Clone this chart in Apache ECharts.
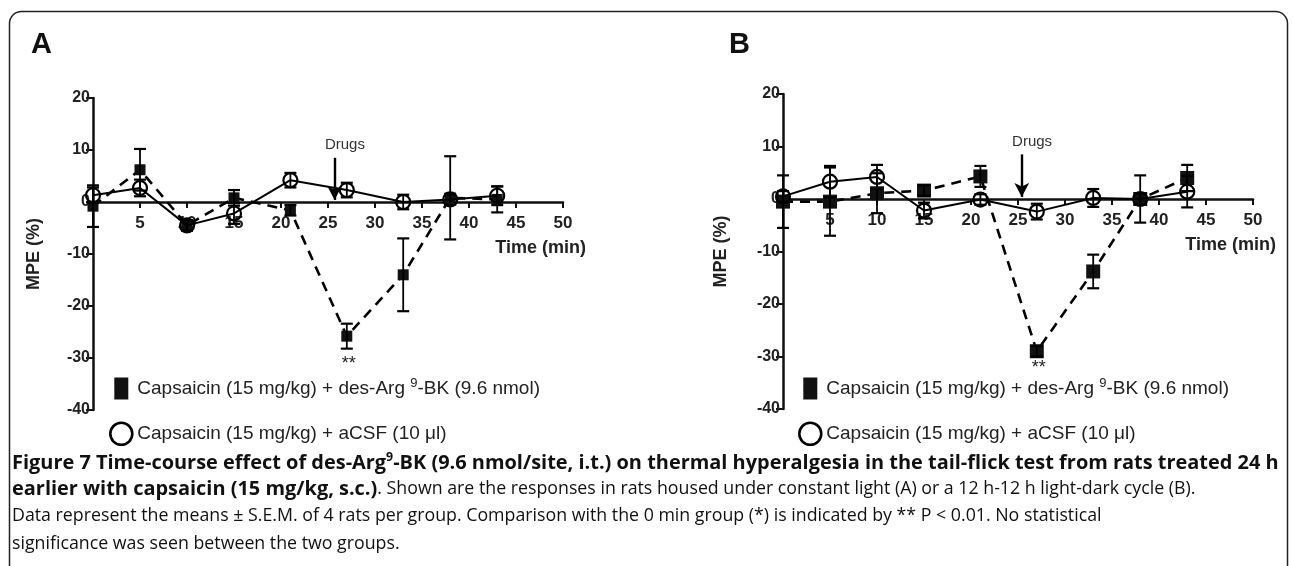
<!DOCTYPE html>
<html><head><meta charset="utf-8">
<script src="https://cdn.jsdelivr.net/npm/echarts@6/dist/echarts.min.js"></script>
<style>html,body{margin:0;padding:0;background:#fff}#c{width:1293px;height:566px}</style>
</head><body><div id="c"></div>
<script>
// ---- data ----
const timeA = [0, 5, 10, 15, 21, 27, 33, 38, 43];
const bkA = [-0.8, 6.2, -4.5, 0.8, -1.6, -25.8, -14.0, 0.8, 0.5];
const bkA_sem = [4.0, 4.0, 1.0, 1.5, 1.0, 2.4, 7.0, 8.0, 2.5];
const csfA = [1.3, 2.7, -4.5, -2.2, 4.2, 2.3, 0.0, 0.5, 1.2];
const csfA_sem = [1.5, 1.6, 1.0, 2.0, 1.4, 1.4, 1.4, 1.0, 1.8];

const timeB = [0, 5, 10, 15, 21, 27, 33, 38, 43];
const bkB = [-0.5, -0.5, 1.1, 1.6, 4.3, -29.0, -13.8, 0.0, 4.0];
const bkB_sem = [5.0, 6.5, 3.8, 1.0, 2.0, 1.0, 3.2, 4.5, 2.5];
const csfB = [0.5, 3.3, 4.2, -2.2, -0.1, -2.4, 0.2, 0.0, 1.4];
const csfB_sem = [1.0, 3.0, 2.3, 1.5, 1.0, 1.5, 1.7, 1.0, 3.0];

const xTicks = [0, 50, 5];      // min, max, interval
const yTicks = [-40, 20, 10];
const nameBK = 'Capsaicin (15 mg/kg) + des-Arg9-BK (9.6 nmol)';
const nameCSF = 'Capsaicin (15 mg/kg) + aCSF (10 \u03bcl)';
const drugTime = [25.7, 25.4];
const sigPoint = [[27.2, -31.1], [27.2, -32.2]];

const captionLines = [
  [['b', 'Figure 7 Time-course effect of des-Arg'], ['bs', '9'], ['b', '-BK (9.6 nmol/site, i.t.) on thermal hyperalgesia in the tail-flick test from rats treated 24 h']],
  [['b', 'earlier with capsaicin (15 mg/kg, s.c.)'], ['r', '. Shown are the responses in rats housed under constant light (A) or a 12 h-12 h light-dark cycle (B).']],
  [['r', 'Data represent the means \u00b1 S.E.M. of 4 rats per group. Comparison with the 0 min group (*) is indicated by ** P < 0.01. No statistical']],
  [['r', 'significance was seen between the two groups.']]
];

// ---- styling ----
const F = '"Liberation Sans", Arial, Helvetica, sans-serif';
const CF = '"Open Sans", "Liberation Sans", sans-serif';
const chart = echarts.init(document.getElementById('c'));

function zip(x, y) { return x.map((v, i) => [v, y[i]]); }
function errData(x, y, e) { return x.map((v, i) => [v, y[i], e[i]]); }

function errSeries(idx, data) {
  return {
    type: 'custom', xAxisIndex: idx, yAxisIndex: idx, data: data, z: 5, silent: true,
    encode: { x: 0, y: 1 },
    renderItem: function (p, api) {
      const x = api.value(0), y = api.value(1), e = api.value(2);
      const t = api.coord([x, y + e]), b = api.coord([x, y - e]);
      const w = 6;
      const st = { stroke: '#000', lineWidth: 1.8 };
      return { type: 'group', children: [
        { type: 'line', shape: { x1: t[0], y1: t[1], x2: b[0], y2: b[1] }, style: st },
        { type: 'line', shape: { x1: t[0] - w, y1: t[1], x2: t[0] + w, y2: t[1] }, style: { stroke: '#000', lineWidth: 2.2 } },
        { type: 'line', shape: { x1: b[0] - w, y1: b[1], x2: b[0] + w, y2: b[1] }, style: { stroke: '#000', lineWidth: 2.2 } }
      ]};
    }
  };
}

const gridH = [312, 315];
function xAxis(idx) {
  // place the x axis on the y = 0 line
  const zeroFromBottom = gridH[idx] * (0 - yTicks[0]) / (yTicks[1] - yTicks[0]);
  return {
    type: 'value', gridIndex: idx, min: xTicks[0], max: xTicks[1], interval: xTicks[2],
    position: 'bottom', offset: -zeroFromBottom,
    axisLine: { onZero: false, lineStyle: { color: '#111', width: 2.5 } },
    axisTick: { length: 6, lineStyle: { color: '#111', width: 2 } },
    axisLabel: { formatter: v => (v === 0 ? '' : String(v)), fontWeight: 'bold', fontSize: 17, color: '#222', fontFamily: F, margin: 13 },
    splitLine: { show: false },
    name: 'Time (min)', nameLocation: 'end', nameGap: 23,
    nameTextStyle: { align: 'right', verticalAlign: 'top', padding: [37, 0, 0, 0], fontWeight: 'bold', fontSize: 18, color: '#222', fontFamily: F }
  };
}
function yAxis(idx, gap) {
  return {
    type: 'value', gridIndex: idx, min: yTicks[0], max: yTicks[1], interval: yTicks[2],
    axisLine: { show: true, onZero: false, lineStyle: { color: '#111', width: 2.5 } },
    axisTick: { show: true, length: 7, lineStyle: { color: '#111', width: 2 } },
    axisLabel: { fontWeight: 'bold', fontSize: 16, color: '#222', fontFamily: F, margin: 3 },
    splitLine: { show: false },
    name: 'MPE (%)', nameLocation: 'middle', nameGap: gap,
    nameTextStyle: { fontWeight: 'bold', fontSize: 18, color: '#222', fontFamily: F }
  };
}

function panelSeries(idx, t, bk, bkE, csf, csfE, sqSize, drugT) {
  return [
    {
      name: nameBK, type: 'line', xAxisIndex: idx, yAxisIndex: idx, data: zip(t, bk),
      symbol: 'rect', symbolSize: sqSize, z: 3,
      lineStyle: { color: '#000', width: 2.6, type: [10, 7] },
      itemStyle: { color: '#111' },
      markPoint: {
        symbol: 'circle', symbolSize: 0,
        data: [{ coord: sigPoint[idx] }],
        label: { show: true, position: 'inside', formatter: '**', fontSize: 18, color: '#222', fontFamily: F }
      }
    },
    {
      name: nameCSF, type: 'line', xAxisIndex: idx, yAxisIndex: idx, data: zip(t, csf),
      symbol: 'circle', symbolSize: 14, z: 4,
      lineStyle: { color: '#000', width: 2 },
      itemStyle: { color: 'rgba(0,0,0,0)', borderColor: '#000', borderWidth: 2.2 },
      markLine: {
        silent: true, symbol: ['none', 'arrow'], symbolSize: [11, 14],
        lineStyle: { type: 'solid', color: '#000', width: 2.4 },
        label: { show: false },
        data: [[{ coord: [drugT, 8.5] }, { coord: [drugT, 0.4] }]]
      },
      markPoint: {
        symbol: 'circle', symbolSize: 0,
        data: [{ coord: [drugT + 1.1, 10.9] }],
        label: { show: true, position: 'inside', formatter: 'Drugs', fontSize: 15, color: '#333', fontFamily: F }
      }
    },
    errSeries(idx, errData(t, bk, bkE)),
    errSeries(idx, errData(t, csf, csfE))
  ];
}

function legend(left) {
  return {
    left: left, top: 372, orient: 'vertical', itemGap: 22, itemWidth: 22, itemHeight: 22,
    selectedMode: false,
    formatter: n => (n === nameBK ? 'Capsaicin (15 mg/kg) + des-Arg {s|9}-BK (9.6 nmol)' : n),
    textStyle: {
      fontSize: 19, color: '#222', fontFamily: F, padding: [0, 0, 0, 0],
      rich: { s: { fontSize: 13, fontFamily: F, color: '#222', verticalAlign: 'top', padding: [0, 0, 10, 0] } }
    },
    data: [
      { name: nameBK, icon: 'path://M0,0H14V22H0Z', itemStyle: { color: '#111', borderWidth: 0 } },
      { name: nameCSF, icon: 'circle', itemStyle: { color: 'rgba(0,0,0,0)', borderColor: '#000', borderWidth: 2.6 } }
    ]
  };
}

// caption fitting
const ctx = document.createElement('canvas').getContext('2d');
function widthOf(txt, weight, size) { ctx.font = weight + ' ' + size + 'px ' + CF; return ctx.measureText(txt).width; }
const boldW = widthOf(captionLines[0].map(s => s[1]).join(''), 'bold', 100);
const boldSize = 100 * 1272 / boldW;
const regW = widthOf(captionLines[2][0][1], 'normal', 100);
const regSize = 100 * 1090 / regW;

const capRich = {
  b: { fontFamily: CF, fontWeight: 'bold', fontSize: boldSize, color: '#111', lineHeight: 24 },
  bs: { fontFamily: CF, fontWeight: 'bold', fontSize: boldSize * 0.62, color: '#111', verticalAlign: 'top', lineHeight: 24 },
  r: { fontFamily: CF, fontWeight: 'normal', fontSize: regSize, color: '#222', lineHeight: 24 }
};
const capY = [463, 491, 519, 547];
const captionGraphics = captionLines.map((ln, i) => ({
  type: 'text', left: 12, top: capY[i] - 12,
  style: { text: ln.map(s => '{' + s[0] + '|' + s[1] + '}').join(''), rich: capRich, fill: '#111' }
}));

const option = {
  backgroundColor: '#fff',
  animation: false,
  grid: [
    { left: 93, top: 98, width: 470, height: gridH[0] },
    { left: 783, top: 94, width: 470, height: gridH[1] }
  ],
  xAxis: [xAxis(0), xAxis(1)],
  yAxis: [yAxis(0, 50), yAxis(1, 53)],
  legend: [legend(104), legend(793)],
  series: [].concat(
    panelSeries(0, timeA, bkA, bkA_sem, csfA, csfA_sem, 11, drugTime[0]),
    panelSeries(1, timeB, bkB, bkB_sem, csfB, csfB_sem, 14, drugTime[1])
  ),
  graphic: [
    { type: 'rect', shape: { x: 9.5, y: 11.5, width: 1278, height: 640, r: [12, 12, 0, 0] }, style: { fill: 'none', stroke: '#222', lineWidth: 1.5 }, silent: true },
    { type: 'text', left: 31, top: 30, style: { text: 'A', fontFamily: F, fontWeight: 'bold', fontSize: 29, fill: '#111' } },
    { type: 'text', left: 729, top: 30, style: { text: 'B', fontFamily: F, fontWeight: 'bold', fontSize: 29, fill: '#111' } }
  ].concat(captionGraphics)
};
chart.setOption(option);
</script></body></html>
